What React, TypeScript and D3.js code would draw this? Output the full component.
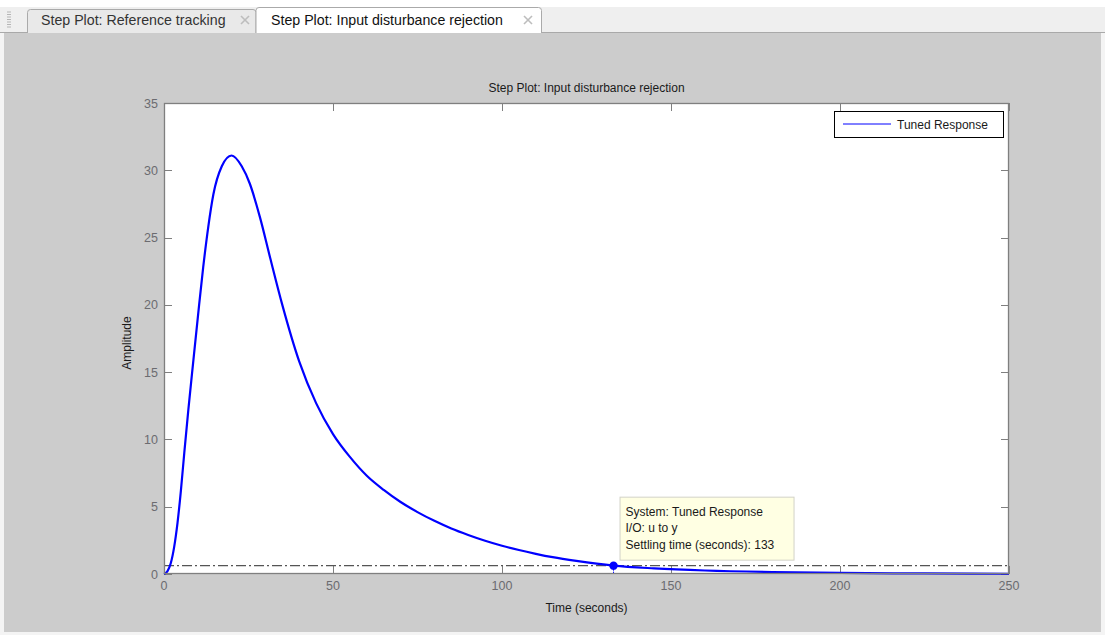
import React from "react";
import * as d3 from "d3";

// Step response of the tuned loop to a unit input disturbance
const timeSec = [0, 1, 2, 3, 4, 5, 6, 7.2, 8.7, 10.1, 11.6, 13.1, 14.6, 17.1, 20, 23, 25.4, 28.4, 31.4, 35, 40, 45, 50, 55, 60, 65, 70, 75, 80, 85, 90, 95, 100, 105, 110, 115, 122, 133, 145, 160, 180, 200, 225, 250];
const amplitude = [0, 0.2, 0.8, 2.0, 3.8, 6.2, 9.0, 12.2, 15.9, 19.3, 22.8, 25.8, 28.2, 30.3, 31.1, 30.3, 29.0, 26.5, 23.5, 20.0, 15.8, 12.7, 10.4, 8.7, 7.3, 6.25, 5.35, 4.6, 3.95, 3.38, 2.9, 2.47, 2.1, 1.78, 1.5, 1.25, 0.97, 0.62, 0.42, 0.26, 0.14, 0.08, 0.04, 0.02];

const xTicks = [0, 50, 100, 150, 200, 250];
const yTicks = [0, 5, 10, 15, 20, 25, 30, 35];

const settlingTime = 133;
const settlingBand = 0.62;

const seriesName = "Tuned Response";
const tipLines = ["System: Tuned Response", "I/O: u to y", "Settling time (seconds): 133"];
const tabLabels = ["Step Plot: Reference tracking", "Step Plot: Input disturbance rejection"];

const W = 1105;
const H = 635;
const plot = { left: 164, right: 1009, top: 103, bottom: 574 };
const FONT = "'Liberation Sans', Arial, sans-serif";

export default function App() {
  const x = d3.scaleLinear().domain([0, 250]).range([plot.left, plot.right]);
  const y = d3.scaleLinear().domain([0, 35]).range([plot.bottom, plot.top]);

  const pts: [number, number][] = timeSec.map((t, i) => [t, amplitude[i]]);
  const line = d3
    .line<[number, number]>()
    .x((d) => x(d[0]))
    .y((d) => y(d[1]))
    .curve(d3.curveMonotoneX);

  const mx = x(settlingTime);
  const my = y(settlingBand);
  const tipX = mx + 6;
  const tipW = 174;
  const tipH = 63;
  const tipY = my - 6 - tipH;

  const tickLen = 8;
  const axisColor = "#7f7f7f";
  const tickText = "#6b6b70";

  const closeIcon = (cx: number, cy: number) => (
    <g stroke="#bdbdbd" strokeWidth={1.6}>
      <line x1={cx - 4} y1={cy - 4} x2={cx + 4} y2={cy + 4} />
      <line x1={cx - 4} y1={cy + 4} x2={cx + 4} y2={cy - 4} />
    </g>
  );

  const tabPath = (x0: number, x1: number, y0: number, y1: number) =>
    `M${x0},${y1} L${x0},${y0 + 3} Q${x0},${y0} ${x0 + 3},${y0} L${x1 - 3},${y0} Q${x1},${y0} ${x1},${y0 + 3} L${x1},${y1}`;

  return (
    <svg
      width={W}
      height={H}
      style={{ position: "absolute", left: 0, top: 0, display: "block" }}
      fontFamily={FONT}
    >
      {/* window background */}
      <rect x={0} y={0} width={W} height={H} fill="#f4f4f4" />
      {/* tab strip */}
      <rect x={0} y={0} width={W} height={7} fill="#ffffff" />
      <rect x={0} y={7} width={W} height={26} fill="#efefef" />
      <line x1={0} x2={W} y1={32.5} y2={32.5} stroke="#a9a9a9" />
      {/* grip */}
      {d3.range(0, 7).map((i) => (
        <line key={i} x1={7} x2={11} y1={12 + i * 2.5} y2={12 + i * 2.5} stroke="#b5b5b5" strokeWidth={1} />
      ))}
      {/* inactive tab */}
      <path d={tabPath(27.5, 256, 9.5, 33)} fill="#e9e9e9" stroke="#aaaaaa" />
      <text x={41} y={25} fontSize={14.2} fill="#333">{tabLabels[0]}</text>
      {closeIcon(245, 20)}
      {/* active tab */}
      <path d={tabPath(256, 541.5, 7.5, 33)} fill="#ffffff" stroke="#aaaaaa" />
      <text x={271} y={25} fontSize={14.2} fill="#111">{tabLabels[1]}</text>
      {closeIcon(528, 20)}

      {/* figure background */}
      <rect x={4} y={33} width={1097} height={599} fill="#cccccc" />

      {/* title */}
      <text x={(plot.left + plot.right) / 2} y={92} textAnchor="middle" fontSize={12} fill="#1a1a1a">
        Step Plot: Input disturbance rejection
      </text>

      {/* axes area */}
      <rect x={plot.left} y={plot.top} width={plot.right - plot.left} height={plot.bottom - plot.top} fill="#ffffff" />

      {/* ticks */}
      <g stroke={axisColor} strokeWidth={1}>
        {yTicks.map((v) => (
          <g key={`yt${v}`}>
            <line x1={plot.left} x2={plot.left + tickLen} y1={Math.round(y(v)) + 0.5} y2={Math.round(y(v)) + 0.5} />
            <line x1={plot.right - tickLen} x2={plot.right} y1={Math.round(y(v)) + 0.5} y2={Math.round(y(v)) + 0.5} />
          </g>
        ))}
        {xTicks.map((v) => (
          <g key={`xt${v}`}>
            <line x1={Math.round(x(v)) + 0.5} x2={Math.round(x(v)) + 0.5} y1={plot.bottom} y2={plot.bottom - tickLen} />
            <line x1={Math.round(x(v)) + 0.5} x2={Math.round(x(v)) + 0.5} y1={plot.top} y2={plot.top + tickLen} />
          </g>
        ))}
      </g>

      {/* settling band */}
      <line
        x1={plot.left}
        x2={plot.right}
        y1={my}
        y2={my}
        stroke="#555555"
        strokeWidth={1.3}
        strokeDasharray="10,3,2,3"
      />

      {/* response */}
      <path d={line(pts) ?? ""} fill="none" stroke="#0000ff" strokeWidth={2.2} strokeLinejoin="round" />

      {/* settling time marker */}
      <line x1={mx} x2={mx} y1={my} y2={plot.bottom} stroke="#0000ff" strokeWidth={1} strokeDasharray="2,1" />
      <circle cx={mx} cy={my} r={4.2} fill="#0000ff" />

      {/* axes box */}
      <rect
        x={plot.left + 0.5}
        y={plot.top + 0.5}
        width={plot.right - plot.left - 1}
        height={plot.bottom - plot.top - 1}
        fill="none"
        stroke={axisColor}
        strokeWidth={1.3}
      />

      {/* tick labels */}
      <g fontSize={12.5} fill={tickText}>
        {yTicks.map((v) => (
          <text key={`yl${v}`} x={plot.left - 6} y={y(v) + 4.5} textAnchor="end">
            {v}
          </text>
        ))}
        {xTicks.map((v) => (
          <text key={`xl${v}`} x={x(v)} y={plot.bottom + 16} textAnchor="middle">
            {v}
          </text>
        ))}
      </g>

      {/* axis labels */}
      <text x={(plot.left + plot.right) / 2} y={612} textAnchor="middle" fontSize={12} fill="#1a1a1a">
        Time (seconds)
      </text>
      <text
        transform={`translate(131, 343) rotate(-90)`}
        textAnchor="middle"
        fontSize={12}
        fill="#1a1a1a"
      >
        Amplitude
      </text>

      {/* legend */}
      <rect x={834.5} y={111.5} width={169} height={26} fill="#ffffff" stroke="#000000" strokeWidth={1} />
      <line x1={843} x2={891} y1={124} y2={124} stroke="#0000ff" strokeWidth={1} />
      <text x={897} y={128.5} fontSize={12} fill="#1a1a1a">
        {seriesName}
      </text>

      {/* data tip */}
      <rect x={tipX + 0.5} y={tipY + 0.5} width={tipW} height={tipH} fill="#ffffe3" stroke="#d2d2c8" strokeWidth={1} />
      {tipLines.map((s, i) => (
        <text key={s} x={tipX + 6} y={tipY + 19 + i * 16.5} fontSize={12} fill="#1a1a1a">
          {s}
        </text>
      ))}
    </svg>
  );
}
